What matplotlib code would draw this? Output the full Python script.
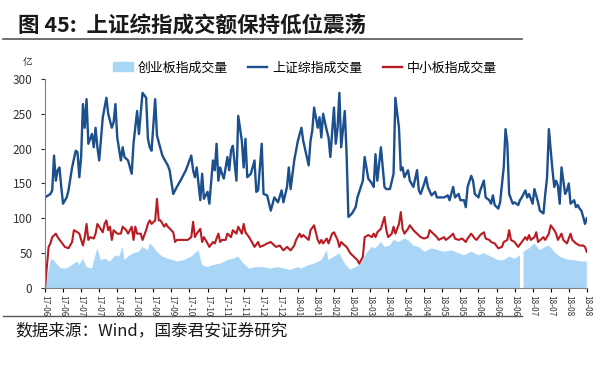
import numpy as np
import matplotlib
matplotlib.use('Agg')
import matplotlib.pyplot as plt
from matplotlib.lines import Line2D

plt.rcParams['font.family'] = ['Noto Sans CJK SC', 'DejaVu Sans']

# 上证综指成交量 (trading-day index, 亿)
sh_day = [0, 3, 4, 5, 6, 7, 8, 9, 10, 12, 13, 15, 17, 18, 19, 20, 21, 22, 23, 24,
          26, 27, 28, 29, 30, 32, 33, 34, 35, 37, 38, 39, 40, 42, 43, 44, 46, 48, 49, 51,
          52, 54, 56, 57, 58, 59, 61, 62, 63, 65, 66, 68, 69, 71, 73, 75, 78, 81, 82, 83,
          84, 86, 87, 88, 90, 91, 93, 94, 95, 96, 97, 98, 99, 101, 102, 103, 104, 106, 107, 109,
          110, 111, 112, 114, 116, 117, 118, 120, 121, 123, 125, 127, 129, 131, 132, 134, 135, 136, 138, 140,
          142, 143, 146, 147, 148, 149, 151, 152, 153, 154, 156, 157, 158, 160, 161, 162, 163, 164, 166, 167,
          168, 170, 172, 173, 176, 177, 179, 181, 182, 183, 184, 186, 188, 189, 191, 193, 194, 196, 197, 198,
          199, 201, 202, 204, 206, 207, 208, 210, 211, 212, 214, 216, 217, 219, 221, 223, 224, 226, 227, 229,
          230, 232, 233, 234, 236, 237, 238, 240, 241, 243, 244, 246, 247, 248, 249, 251, 252, 254, 255, 256,
          257, 259, 260, 262, 263, 264, 266, 267, 268, 270, 271, 273, 274, 276, 277, 278, 279, 281, 282, 283,
          284, 285, 286, 288, 289, 290, 291, 293, 294, 295, 296, 297, 298, 299, 300]
sh_vol = [130, 135, 140, 190, 154, 169, 173, 145, 121, 130, 140, 173, 197, 195, 159, 188, 264, 230, 271, 207,
          221, 202, 230, 202, 183, 245, 259, 273, 250, 230, 238, 264, 216, 183, 202, 188, 183, 164, 207, 254,
          221, 280, 273, 214, 202, 197, 271, 219, 209, 190, 185, 176, 169, 135, 145, 154, 169, 190, 169, 159,
          173, 126, 164, 128, 138, 121, 183, 169, 207, 154, 173, 164, 157, 188, 169, 197, 204, 154, 247, 211,
          173, 214, 159, 164, 183, 138, 140, 207, 135, 133, 111, 130, 123, 140, 123, 145, 173, 142, 183, 211,
          230, 211, 176, 211, 226, 259, 230, 245, 216, 250, 226, 216, 188, 259, 207, 230, 280, 202, 254, 192,
          102, 107, 116, 130, 154, 188, 157, 150, 145, 192, 154, 202, 145, 142, 142, 164, 273, 230, 169, 173,
          159, 169, 154, 145, 169, 140, 135, 150, 159, 145, 133, 138, 130, 130, 130, 133, 126, 145, 130, 135,
          126, 126, 116, 145, 161, 154, 135, 130, 140, 154, 130, 126, 121, 133, 119, 114, 123, 173, 228, 207,
          135, 121, 123, 119, 126, 130, 140, 130, 135, 121, 142, 123, 111, 107, 135, 159, 228, 169, 145, 154,
          147, 121, 173, 135, 140, 150, 121, 126, 116, 119, 114, 111, 102, 92, 100]

# 中小板指成交量
zx_day = [0, 2, 3, 4, 6, 7, 9, 11, 13, 15, 16, 18, 19, 21, 22, 23, 24, 25, 27, 28,
          29, 30, 32, 33, 34, 35, 36, 37, 38, 40, 42, 43, 45, 46, 48, 49, 50, 51, 53, 54,
          56, 57, 58, 59, 61, 62, 63, 64, 66, 67, 68, 71, 72, 73, 76, 79, 81, 82, 83, 84,
          86, 87, 88, 90, 91, 93, 94, 96, 97, 98, 100, 101, 103, 104, 106, 107, 109, 110, 111, 113,
          115, 116, 118, 119, 121, 123, 125, 127, 128, 130, 132, 134, 136, 138, 139, 141, 142, 143, 146, 147,
          149, 151, 152, 153, 154, 156, 157, 159, 160, 162, 163, 164, 166, 167, 169, 171, 173, 174, 176, 177,
          179, 181, 182, 183, 184, 186, 188, 189, 190, 192, 193, 194, 196, 197, 198, 199, 201, 202, 204, 206,
          208, 210, 212, 213, 215, 217, 218, 221, 222, 224, 226, 227, 229, 231, 233, 234, 236, 238, 239, 241,
          243, 244, 246, 247, 249, 251, 253, 254, 256, 257, 258, 260, 262, 264, 266, 267, 268, 269, 271, 272,
          273, 276, 277, 279, 280, 282, 283, 284, 286, 287, 289, 291, 292, 294, 296, 298, 299, 300]
zx_vol = [0, 59, 64, 73, 78, 73, 66, 59, 57, 66, 83, 80, 78, 61, 73, 92, 69, 73, 71, 78,
          92, 88, 80, 92, 97, 83, 88, 69, 83, 78, 78, 88, 83, 78, 88, 69, 88, 78, 78, 69,
          83, 92, 97, 92, 97, 128, 97, 97, 88, 92, 88, 80, 66, 69, 69, 69, 73, 95, 73, 78,
          85, 66, 73, 64, 59, 66, 64, 78, 66, 69, 69, 78, 73, 83, 78, 88, 78, 92, 80, 73,
          64, 59, 66, 59, 61, 64, 66, 61, 59, 61, 54, 59, 54, 61, 69, 78, 73, 76, 69, 83,
          90, 69, 64, 69, 64, 71, 64, 78, 80, 69, 59, 66, 61, 59, 50, 45, 40, 35, 45, 73,
          76, 73, 78, 73, 80, 85, 102, 83, 73, 78, 88, 78, 92, 109, 85, 78, 85, 90, 83, 78,
          73, 71, 73, 83, 78, 73, 69, 73, 69, 73, 78, 71, 69, 71, 66, 71, 78, 71, 69, 76,
          80, 71, 69, 66, 64, 57, 59, 66, 69, 83, 69, 66, 59, 66, 73, 69, 76, 69, 73, 80,
          66, 73, 69, 78, 90, 83, 78, 69, 78, 69, 64, 78, 69, 64, 61, 61, 59, 52]

# 创业板指成交量 (nan = missing day)
cy_day = [0, 3, 4, 7, 9, 12, 15, 18, 19, 21, 23, 26, 29, 31, 33, 36, 39, 41, 43, 44,
          46, 49, 52, 54, 57, 58, 60, 62, 65, 68, 71, 73, 77, 81, 83, 85, 87, 90, 93, 97,
          101, 104, 107, 110, 113, 117, 121, 125, 129, 132, 136, 140, 142, 146, 149, 153, 156, 157, 160, 163,
          166, 169, 172, 175, 178, 181, 183, 186, 188, 191, 193, 196, 199, 201, 204, 207, 210, 214, 218, 221,
          225, 229, 232, 236, 240, 243, 247, 251, 254, 257, 260, 263, 264, 265, 268, 271, 274, 277, 279, 282,
          285, 288, 291, 293, 297, 300]
cy_vol = [0, 38, 42, 33, 28, 28, 33, 38, 33, 42, 30, 28, 57, 40, 42, 38, 47, 45, 59, 40,
          45, 50, 52, 59, 54, 64, 59, 52, 45, 42, 40, 38, 40, 45, 50, 54, 33, 30, 33, 35,
          40, 42, 45, 35, 28, 30, 30, 28, 30, 28, 26, 30, 28, 33, 35, 40, 54, 40, 45, 50,
          35, 26, 30, 35, 50, 59, 57, 66, 59, 61, 69, 66, 71, 69, 61, 59, 52, 57, 54, 52,
          54, 50, 47, 52, 47, 50, 45, 40, 40, 45, 42, 47, np.nan, 52, 57, 64, 54, 59, 61, 52,
          45, 42, 40, 40, 38, 38]

tick_labels = ['17-06', '17-06', '17-07', '17-07', '17-08', '17-08', '17-09', '17-09',
               '17-10', '17-10', '17-11', '17-11', '17-12', '17-12', '18-01', '18-01',
               '18-02', '18-02', '18-03', '18-03', '18-04', '18-04', '18-05', '18-05',
               '18-06', '18-06', '18-06', '18-07', '18-07', '18-08', '18-08']

c_area = '#A9D5F7'
c_sh = '#1B4F8E'
c_zx = '#B81C22'

fig = plt.figure(figsize=(6, 3.69), dpi=100)
ax = fig.add_axes([0.075, 0.2195, 0.903, 0.5665])

cy = np.array(cy_vol, dtype=float)
ax.fill_between(cy_day, 0, cy, where=~np.isnan(cy), color=c_area, lw=0)
ax.plot(sh_day, sh_vol, color=c_sh, lw=1.7)
ax.plot(zx_day, zx_vol, color=c_zx, lw=1.5)

ax.set_xlim(0, 300)
ax.set_ylim(0, 300)
ax.set_yticks(range(0, 301, 50))
ax.set_xticks(np.arange(len(tick_labels)) * 10)
ax.set_xticklabels(tick_labels, rotation=270, fontsize=6, color='#333333')
ax.tick_params(axis='y', labelsize=8.5, colors='#333333', length=3, direction='out', pad=6)
ax.tick_params(axis='x', length=3, direction='out', pad=2)
for s in ['top', 'right']:
    ax.spines[s].set_visible(False)
for s in ['left', 'bottom']:
    ax.spines[s].set_color('#808080')
    ax.spines[s].set_linewidth(0.8)

handles = [plt.Rectangle((0, 0), 1, 1, color=c_area),
           Line2D([0], [0], color=c_sh, lw=1.7),
           Line2D([0], [0], color=c_zx, lw=1.7)]
ax.legend(handles, ['创业板指成交量', '上证综指成交量', '中小板指成交量'],
          loc='center', bbox_to_anchor=(0.48, 1.053), ncol=3, frameon=False,
          fontsize=9.3, handlelength=1.5, handletextpad=0.35, columnspacing=1.6,
          borderaxespad=0, borderpad=0)

fig.text(0.037, 0.832, '亿', fontsize=7, color='#333333', va='center')

# title and source
fig.text(0.03, 0.93, '图 45:  上证综指成交额保持低位震荡', fontsize=15.5,
         fontweight='bold', va='center', color='#1a1a1a')
fig.add_artist(Line2D([0.005, 0.87], [0.895, 0.895], color='#555555', lw=1.2))
fig.add_artist(Line2D([0.005, 0.87], [0.143, 0.143], color='#555555', lw=1.0))
fig.text(0.025, 0.103, '数据来源：Wind，国泰君安证券研究', fontsize=12, va='center',
         color='#1a1a1a')

fig.savefig('out.png', dpi=100)
